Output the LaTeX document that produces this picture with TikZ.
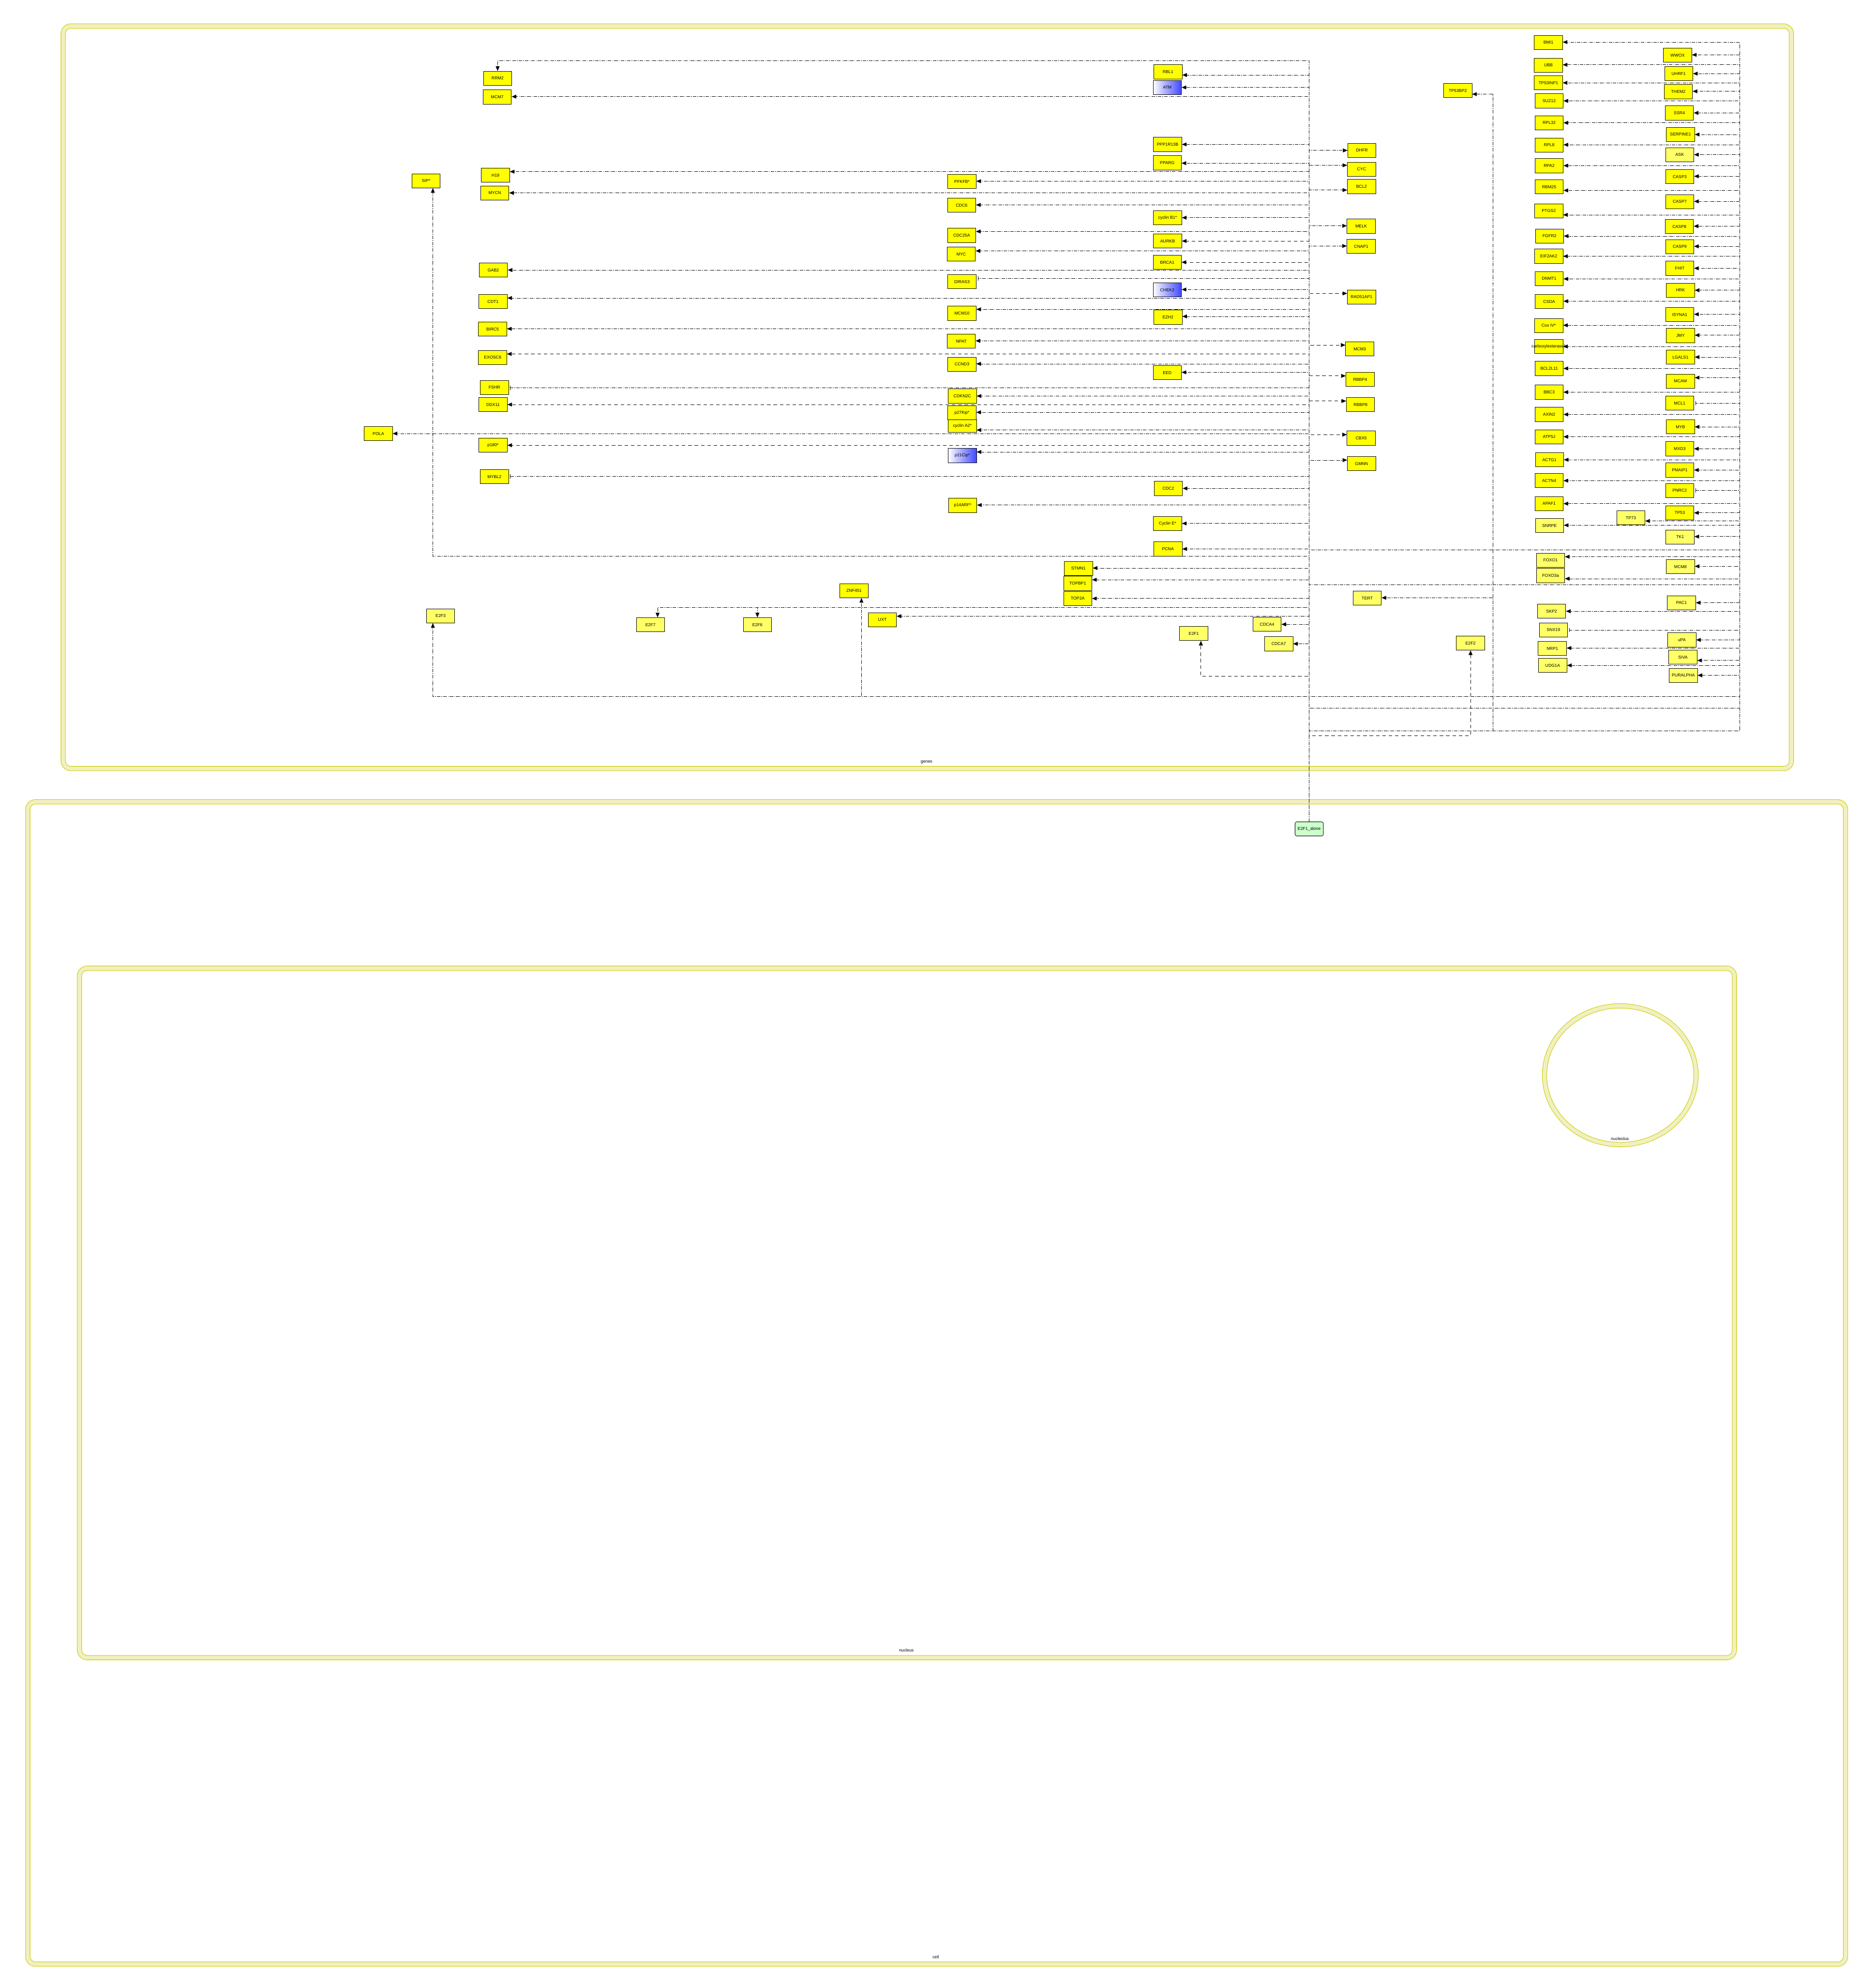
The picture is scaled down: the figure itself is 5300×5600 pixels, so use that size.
\documentclass[tikz,border=0pt]{standalone}
\usepackage{fontspec}
\setmainfont{Liberation Sans}
\usetikzlibrary{arrows.meta}
\definecolor{gy}{RGB}{255,255,0}
\definecolor{ly}{RGB}{255,255,102}
\definecolor{bb}{RGB}{64,72,255}
\definecolor{gg}{RGB}{204,255,204}
\definecolor{cl}{RGB}{240,240,192}
\definecolor{cd}{RGB}{204,204,0}
\newcommand\genefont{\fontsize{12}{14}\selectfont}
\newcommand\edgeL[3][ed]{\draw[#1] (ea.north) |- (#2.east |- 0,#3);}
\newcommand\edgeR[3][ed]{\draw[#1] (ea.north) |- (#2.west |- 0,#3);}
\newcommand\edgeF[4][ed]{\draw[#1] (ea.north) |- (4916,#4) |- (#2.east |- 0,#3);}
\tikzset{
  gene/.style={draw=black, line width=1.2pt, fill=gy, minimum width=80pt, minimum height=40pt, inner sep=0pt, font=\genefont},
  lgene/.style={gene, fill=ly},
  bgene/.style={gene, left color=white, right color=bb},
  ed/.style={line width=1pt, dash pattern=on 10pt off 3pt on 2pt off 3pt, -{Triangle[length=13pt,width=11pt]}},
  edd/.style={line width=1pt, dash pattern=on 10pt off 8pt, -{Triangle[length=13pt,width=11pt]}},
  inh/.style={line width=1pt, dash pattern=on 10pt off 3pt on 2pt off 3pt, -{Bar[width=12pt,line width=1.2pt]}, shorten >=4pt},
  compo/.style={line width=14pt, draw=cd, rounded corners=22pt},
  compi/.style={line width=11pt, draw=cl, rounded corners=22pt},
  clabel/.style={font=\genefont, inner sep=0pt}
}
\begin{document}
\begin{tikzpicture}[x=1pt,y=-1pt]
\useasboundingbox (0,0) rectangle (5300,5600);
\fill[white] (0,0) rectangle (5300,5600);
% compartments
\draw[compo] (78.5,2265.5) rectangle (5214.5,5549.5);
\draw[compi] (78.5,2265.5) rectangle (5214.5,5549.5);
\draw[compo] (224.5,2735.5) rectangle (4900.5,4683.5);
\draw[compi] (224.5,2735.5) rectangle (4900.5,4683.5);
\draw[compo] (178.5,73.5) rectangle (5061.5,2171.5);
\draw[compi] (178.5,73.5) rectangle (5061.5,2171.5);
\draw[line width=14pt, draw=cd] (4578,3038) ellipse [x radius=214pt, y radius=196pt];
\draw[line width=11pt, draw=cl] (4578,3038) ellipse [x radius=214pt, y radius=196pt];
\node[clabel] (lgenes) at (2618,2154) {genes};
\node[clabel] (lnucleus) at (2561,4663) {nucleus};
\node[clabel] (lcell) at (2644,5530) {cell};
\node[clabel] (lnucleolus) at (4577,3217) {nucleolus};

% source
\node[draw=black, line width=1.2pt, fill=gg, rounded corners=5pt, minimum width=80pt, minimum height=40pt, inner sep=0pt, font=\genefont] (ea) at (3699,2342) {E2F1\_alone};

% left column
\node[gene] (rrm2) at (1406,221) {RRM2};
\node[gene] (mcm7) at (1405,274) {MCM7};
\node[gene] (sip) at (1204,511) {SIP*};
\node[gene] (h19) at (1400,495) {H19};
\node[gene] (mycn) at (1398,545) {MYCN};
\node[gene] (gab2) at (1394,763) {GAB2};
\node[gene] (cdt1) at (1393,852) {CDT1};
\node[gene] (birc5) at (1392,930) {BIRC5};
\node[gene] (exosc8) at (1392,1010) {EXOSC8};
\node[gene] (fshr) at (1397,1095) {FSHR};
\node[gene] (ddx11) at (1393,1143) {DDX11};
\node[gene] (pola) at (1069,1225) {POLA};
\node[gene] (p180) at (1393,1258) {p180*};
\node[gene] (mybl2) at (1397,1347) {MYBL2};
\node[lgene] (e2f3) at (1245,1740) {E2F3};
\node[lgene] (e2f7) at (1838,1765) {E2F7};
\node[lgene] (e2f6) at (2140,1765) {E2F6};
\node[gene] (znf) at (2413,1669) {ZNF451};
\node[gene] (uxt) at (2493,1751) {UXT};

% middle-left column
\node[gene] (pfkfb) at (2718,513) {PFKFB*};
\node[gene] (cdc6) at (2717,580) {CDC6};
\node[gene] (cdc25a) at (2717,665) {CDC25A};
\node[gene] (myc) at (2716,718) {MYC};
\node[gene] (diras3) at (2718,796) {DIRAS3};
\node[gene] (mcm10) at (2718,885) {MCM10};
\node[gene] (npat) at (2716,964) {NPAT};
\node[gene] (ccnd3) at (2718,1029) {CCND3};
\node[gene] (cdkn2c) at (2719,1119) {CDKN2C};
\node[gene] (p27) at (2718,1166) {p27Kip*};
\node[gene, minimum height=36pt] (cyca2) at (2719,1204) {cyclin A2*};
\node[bgene] (p21) at (2719,1287) {p21Cip*};
\node[gene] (p14) at (2720,1428) {p14ARF*};

% middle column
\node[gene] (rbl1) at (3300,203) {RBL1};
\node[bgene] (atm) at (3298,247) {ATM};
\node[gene] (ppp1r13b) at (3299,408) {PPP1R13B};
\node[gene] (pparg) at (3298,460) {PPARG};
\node[gene] (cycb1) at (3299,615) {cyclin B1*};
\node[gene] (aurkb) at (3299,681) {AURKB};
\node[gene] (brca1) at (3298,741) {BRCA1};
\node[bgene] (chek2) at (3298,819) {CHEK2};
\node[gene] (ezh2) at (3300,896) {EZH2};
\node[gene] (eed) at (3298,1053) {EED};
\node[gene] (cdc2) at (3301,1380) {CDC2};
\node[gene] (cyce) at (3299,1479) {Cyclin E*};
\node[gene] (pcna) at (3300,1551) {PCNA};
\node[gene] (stmn1) at (3047,1606) {STMN1};
\node[gene] (topbp1) at (3045,1648) {TOPBP1};
\node[gene] (top2a) at (3045,1691) {TOP2A};
\node[lgene] (e2f1) at (3373,1790) {E2F1};
\node[lgene] (cdca4) at (3580,1764) {CDCA4};
\node[lgene] (cdca7) at (3613,1819) {CDCA7};

% right of trunk
\node[gene] (dhfr) at (3848,425) {DHFR};
\node[gene] (cyc) at (3847,478) {CYC};
\node[gene] (bcl2) at (3847,527) {BCL2};
\node[gene] (melk) at (3846,639) {MELK};
\node[gene] (cnap1) at (3846,696) {CNAP1};
\node[gene] (rad51ap1) at (3847,839) {RAD51AP1};
\node[gene] (mcm3) at (3842,986) {MCM3};
\node[gene] (rbbp4) at (3843,1072) {RBBP4};
\node[gene] (rbbp8) at (3844,1143) {RBBP8};
\node[gene] (cbx5) at (3846,1238) {CBX5};
\node[gene] (gmnn) at (3847,1310) {GMNN};
\node[lgene] (tert) at (3863,1690) {TERT};
\node[lgene] (e2f2) at (4155,1817) {E2F2};
\node[gene] (tp53bp2) at (4119,256) {TP53BP2};

% inner right column
\node[gene] (bmi1) at (4375,120) {BMI1};
\node[gene] (ubb) at (4375,184) {UBB};
\node[gene] (tp53inp1) at (4375,234) {TP53INP1};
\node[gene] (suz12) at (4377,285) {SUZ12};
\node[gene] (rpl32) at (4377,347) {RPL32};
\node[gene] (rpl8) at (4377,410) {RPL8};
\node[gene] (rpa2) at (4377,468) {RPA2};
\node[gene] (rbm25) at (4377,528) {RBM25};
\node[gene] (ptgs2) at (4376,596) {PTGS2};
\node[gene] (fgfr2) at (4378,667) {FGFR2};
\node[gene] (eif2ak2) at (4376,724) {EIF2AK2};
\node[gene] (dnmt1) at (4377,787) {DNMT1};
\node[gene] (csda) at (4377,852) {CSDA};
\node[gene] (cox4) at (4376,920) {Cox IV*};
\node[gene] (cbxe) at (4376,979) {\makebox[0pt]{carboxylesterase1}};
\node[gene] (bcl2l11) at (4377,1041) {BCL2L11};
\node[gene] (bbc3) at (4377,1108) {BBC3};
\node[gene] (axin2) at (4377,1171) {AXIN2};
\node[gene] (atp5j) at (4377,1234) {ATP5J};
\node[gene] (actg1) at (4378,1299) {ACTG1};
\node[gene] (actn4) at (4377,1358) {ACTN4};
\node[gene] (apaf1) at (4377,1423) {APAF1};
\node[lgene] (snrpe) at (4378,1485) {SNRPE};
\node[lgene] (foxo1) at (4381,1583) {FOXO1};
\node[lgene] (foxo3a) at (4381,1626) {FOXO3a};
\node[lgene] (skp2) at (4384,1727) {SKP2};
\node[lgene] (snx19) at (4389,1780) {SNX19};
\node[lgene] (nrp1) at (4386,1832) {NRP1};
\node[lgene] (udg1a) at (4387,1880) {UDG1A};

% outer right column
\node[gene] (wwox) at (4740,156) {WWOX};
\node[gene] (uhrf1) at (4743,208) {UHRF1};
\node[gene] (them2) at (4742,259) {THEM2};
\node[gene] (ssr4) at (4745,319) {SSR4};
\node[gene] (serpine1) at (4748,380) {SERPINE1};
\node[lgene] (ask) at (4746,437) {ASK};
\node[gene] (casp3) at (4746,499) {CASP3};
\node[gene] (casp7) at (4746,570) {CASP7};
\node[gene] (casp8) at (4745,640) {CASP8};
\node[gene] (casp9) at (4746,697) {CASP9};
\node[gene] (fhit) at (4746,758) {FHIT};
\node[gene] (hrk) at (4748,820) {HRK};
\node[gene] (isyna1) at (4746,889) {ISYNA1};
\node[gene] (jmy) at (4748,948) {JMY};
\node[gene] (lgals1) at (4748,1009) {LGALS1};
\node[gene] (mcam) at (4748,1077) {MCAM};
\node[gene] (mcl1) at (4746,1139) {MCL1};
\node[gene] (myb) at (4748,1206) {MYB};
\node[gene] (mxd3) at (4746,1268) {MXD3};
\node[gene] (pmaip1) at (4746,1328) {PMAIP1};
\node[gene] (pnrc2) at (4746,1386) {PNRC2};
\node[gene] (tp53) at (4746,1449) {TP53};
\node[lgene] (tp73) at (4608,1463) {TP73};
\node[lgene] (tk1) at (4747,1517) {TK1};
\node[lgene] (mcm8) at (4748,1601) {MCM8};
\node[lgene] (pac1) at (4751,1703) {PAC1};
\node[lgene] (upa) at (4752,1808) {uPA};
\node[lgene] (siva) at (4755,1857) {SIVA};
\node[lgene] (puralpha) at (4756,1908) {PURALPHA};

% ---------- edges ----------
\draw[ed] (ea.north) |- (rrm2.north |- 0,171) -- (rrm2.north);
\edgeL{mcm7}{273}
\draw[ed] (ea.north) |- (1223,1571) -- ([xshift=19pt]sip.south);
\edgeL{h19}{485}
\edgeL{mycn}{545}
\edgeL{gab2}{763}
\edgeL{cdt1}{842}
\edgeL{birc5}{929}
\edgeL[edd]{exosc8}{1000}
\edgeL[inh]{fshr}{1096}
\edgeL[edd]{ddx11}{1143}
\edgeL{pola}{1225}
\edgeL[edd]{p180}{1258}
\edgeL[inh]{mybl2}{1346}
\draw[ed] (ea.north) |- (1223,1968) -- ([xshift=-22pt]e2f3.south);
\draw[ed] (ea.north) |- (1858,1716) -- ([xshift=20pt]e2f7.north);
\draw[ed] (ea.north) |- (e2f6.north |- 0,1716) -- (e2f6.north);
\draw[ed] (ea.north) |- (2434,1968) -- ([xshift=21pt]znf.south);
\edgeL{uxt}{1741}

\edgeL{pfkfb}{512}
\edgeL{cdc6}{579}
\edgeL{cdc25a}{654}
\edgeL{myc}{709}
\edgeL[inh]{diras3}{787}
\edgeL{mcm10}{874}
\edgeL{npat}{963}
\edgeL{ccnd3}{1028}
\edgeL{cdkn2c}{1119}
\edgeL{p27}{1165}
\edgeL{cyca2}{1215}
\edgeL{p21}{1277}
\edgeL{p14}{1427}

\edgeL{rbl1}{212}
\edgeL{atm}{247}
\edgeL{ppp1r13b}{408}
\edgeL{pparg}{461}
\edgeL{cycb1}{615}
\edgeL[edd]{aurkb}{681}
\edgeL[edd]{brca1}{741}
\edgeL{chek2}{818}
\edgeL{ezh2}{894}
\edgeL{eed}{1052}
\edgeL{cdc2}{1380}
\edgeL{cyce}{1479}
\edgeL{pcna}{1551}
\edgeL{stmn1}{1605}
\edgeL{topbp1}{1638}
\edgeL{top2a}{1691}
\draw[edd] (ea.north) |- (3393,1911) -- ([xshift=20pt]e2f1.south);
\edgeL{cdca4}{1764}
\edgeL{cdca7}{1819}

\edgeR{dhfr}{425}
\edgeR{cyc}{467}
\edgeR{bcl2}{537}
\edgeR{melk}{638}
\edgeR{cnap1}{695}
\edgeR[edd]{rad51ap1}{829}
\edgeR[edd]{mcm3}{975}
\edgeR[edd]{rbbp4}{1062}
\edgeR[edd]{rbbp8}{1133}
\edgeR[edd]{cbx5}{1228}
\edgeR{gmnn}{1300}

\draw[ed] (ea.north) |- (4218,2065) |- (tert.east |- 0,1689);
\draw[ed] (ea.north) |- (4218,2065) |- (tp53bp2.east |- 0,266);
\draw[edd] (ea.north) |- (e2f2.south |- 0,2078) -- (e2f2.south);

% inner right column via y=2065
\edgeF{bmi1}{119}{2065}
\edgeF{ubb}{183}{2065}
\edgeF{tp53inp1}{234}{2065}
\edgeF{suz12}{285}{2065}
\edgeF{rpl32}{347}{2065}
\edgeF{rpl8}{409}{2065}
\edgeF{rpa2}{468}{2065}
\edgeF{rbm25}{538}{2065}
\edgeF{ptgs2}{607}{2065}
\edgeF{fgfr2}{667}{2065}
\edgeF{eif2ak2}{724}{2065}
\edgeF{dnmt1}{788}{2065}
\edgeF{csda}{851}{2065}
\edgeF{cox4}{919}{2065}
\edgeF{cbxe}{979}{2065}
\edgeF{bcl2l11}{1041}{2065}
\edgeF{bbc3}{1108}{2065}
\edgeF{axin2}{1171}{2065}
\edgeF{atp5j}{1234}{2065}
\edgeF{actg1}{1299}{2065}
\edgeF{actn4}{1358}{2065}
\edgeF{apaf1}{1423}{2065}
% outer right column via y=2000
\edgeF{wwox}{155}{2000}
\edgeF{uhrf1}{208}{2000}
\edgeF{them2}{258}{2000}
\edgeF{ssr4}{319}{2000}
\edgeF{serpine1}{380}{2000}
\edgeF{ask}{437}{2000}
\edgeF{casp3}{498}{2000}
\edgeF{casp7}{569}{2000}
\edgeF{casp8}{639}{2000}
\edgeF{casp9}{696}{2000}
\edgeF{fhit}{758}{2000}
\edgeF{hrk}{820}{2000}
\edgeF{isyna1}{888}{2000}
\edgeF{jmy}{947}{2000}
\edgeF{lgals1}{1009}{2000}
\edgeF{mcam}{1067}{2000}
\edgeF[inh]{mcl1}{1139}{2000}
\edgeF{myb}{1206}{2000}
\edgeF{mxd3}{1268}{2000}
\edgeF{pmaip1}{1328}{2000}
\edgeF[inh]{pnrc2}{1386}{2000}
% via y=1553
\edgeF{tp53}{1449}{1553}
\edgeF{tp73}{1472}{1553}
\edgeF{snrpe}{1484}{1553}
\edgeF{tk1}{1516}{1553}
% via y=1652
\edgeF{foxo1}{1573}{1652}
\edgeF{mcm8}{1600}{1652}
\edgeF{foxo3a}{1635}{1652}
% via y=1968
\edgeF{pac1}{1703}{1968}
\edgeF{skp2}{1727}{1968}
\edgeF[inh]{snx19}{1780}{1968}
\edgeF{upa}{1808}{1968}
\edgeF{nrp1}{1831}{1968}
\edgeF{siva}{1866}{1968}
\edgeF{udg1a}{1880}{1968}
\edgeF{puralpha}{1908}{1968}
\end{tikzpicture}
\end{document}
